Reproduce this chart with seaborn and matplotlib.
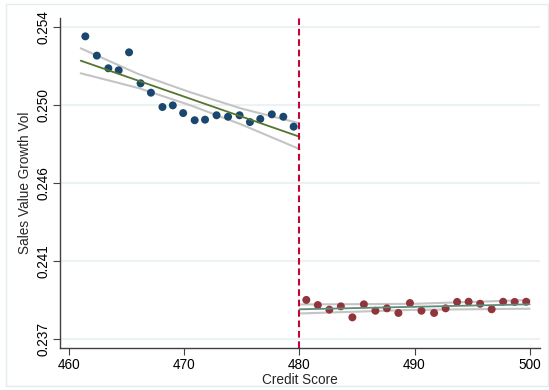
import matplotlib
matplotlib.use("Agg")
import matplotlib.pyplot as plt
import seaborn as sns
import pandas as pd
from matplotlib.patches import Rectangle

# binned means, left of the cutoff
left_x = [461.4, 462.4, 463.4, 464.3, 465.2, 466.2, 467.1, 468.1, 469.0, 469.9,
          470.9, 471.8, 472.8, 473.8, 474.8, 475.7, 476.6, 477.6, 478.6, 479.5]
left_y = [0.25349, 0.25244, 0.25175, 0.25164, 0.25262, 0.25093, 0.25042, 0.24964, 0.24973, 0.24931,
          0.24892, 0.24895, 0.24919, 0.24911, 0.24919, 0.24882, 0.24899, 0.24924, 0.24911, 0.24857]

# binned means, right of the cutoff
right_x = [480.6, 481.6, 482.6, 483.6, 484.6, 485.6, 486.6, 487.6, 488.6, 489.6,
           490.6, 491.7, 492.7, 493.7, 494.7, 495.7, 496.7, 497.7, 498.7, 499.7]
right_y = [0.23913, 0.23885, 0.23860, 0.23878, 0.23818, 0.23889, 0.23854, 0.23867, 0.23842, 0.23896,
           0.23854, 0.23842, 0.23867, 0.23902, 0.23903, 0.23892, 0.23862, 0.23903, 0.23902, 0.23903]

# fitted lines and confidence bands
fit_left_x = [461.0, 466.0, 470.5, 475.0, 480.0]
fit_left = [0.252165, 0.251075, 0.250094, 0.249113, 0.248023]
ci_left_hi = [0.25284, 0.25144, 0.250448, 0.249549, 0.248754]
ci_left_lo = [0.251478, 0.250677, 0.24974, 0.248677, 0.247353]

fit_right_x = [480.0, 490.0, 500.0]
fit_right = [0.238618, 0.238755, 0.238891]
ci_right_hi = [0.23888, 0.238918, 0.239125]
ci_right_lo = [0.23839, 0.238591, 0.238651]

cutoff = 480
x_ticks = [460, 470, 480, 490, 500]
y_ticks = [0.2370, 0.24125, 0.2455, 0.24975, 0.2540]
y_tick_labels = ["0.237", "0.241", "0.246", "0.250", "0.254"]

sns.set_style("white")
plt.rcParams["font.family"] = ["Liberation Sans", "DejaVu Sans"]

fig = plt.figure(figsize=(5.49, 3.90), dpi=100)
ax = fig.add_axes([60 / 549, 1 - 348 / 390, 480 / 549, 330 / 390])

# light outer frame like a Stata graph region
fig.patches.append(Rectangle((6 / 549, 4 / 390), 542 / 549, 382 / 390, transform=fig.transFigure,
                             fill=False, edgecolor="#e3ecee", linewidth=1.0))

for y in y_ticks:
    ax.axhline(y, color="#eaf2f3", linewidth=1.5, zorder=0)

grey = "#c4c4c4"
df_l = pd.DataFrame({"x": fit_left_x, "fit": fit_left, "hi": ci_left_hi, "lo": ci_left_lo})
df_r = pd.DataFrame({"x": fit_right_x, "fit": fit_right, "hi": ci_right_hi, "lo": ci_right_lo})
for d in (df_l, df_r):
    sns.lineplot(data=d, x="x", y="hi", color=grey, linewidth=1.5, ax=ax, zorder=2)
    sns.lineplot(data=d, x="x", y="lo", color=grey, linewidth=1.5, ax=ax, zorder=2)

sns.scatterplot(x=left_x, y=left_y, color="#1a476f", s=33, edgecolor="none", ax=ax, zorder=3)
sns.scatterplot(x=right_x, y=right_y, color="#90353b", s=33, edgecolor="none", ax=ax, zorder=3)

sns.lineplot(data=df_l, x="x", y="fit", color="#55752f", linewidth=1.3, ax=ax, zorder=4)
sns.lineplot(data=df_r, x="x", y="fit", color="#5f8b79", linewidth=1.3, ax=ax, zorder=4)

ax.axvline(cutoff, color="#c10534", linewidth=1.5, linestyle=(0, (3.2, 1.8)), zorder=5)

ax.set_xlim(459.2, 500.9)
ax.set_ylim(0.23651, 0.25449)
ax.set_xticks(x_ticks)
ax.set_yticks(y_ticks)
ax.set_yticklabels(y_tick_labels, rotation=90, va="center")
ax.tick_params(axis="both", direction="out", length=5, width=0.8, color="#404040",
               labelsize=9.8, labelcolor="black", pad=2)
ax.tick_params(axis="x", bottom=True)
ax.tick_params(axis="y", left=True)

for side in ("top", "right"):
    ax.spines[side].set_visible(False)
for side in ("left", "bottom"):
    ax.spines[side].set_color("#404040")
    ax.spines[side].set_linewidth(1.0)

ax.set_xlabel("Credit Score", fontsize=9.8, labelpad=1)
ax.set_ylabel("Sales Value Growth Vol", fontsize=9.8, labelpad=3)
ax.grid(False)

fig.savefig("out.png", dpi=100)
